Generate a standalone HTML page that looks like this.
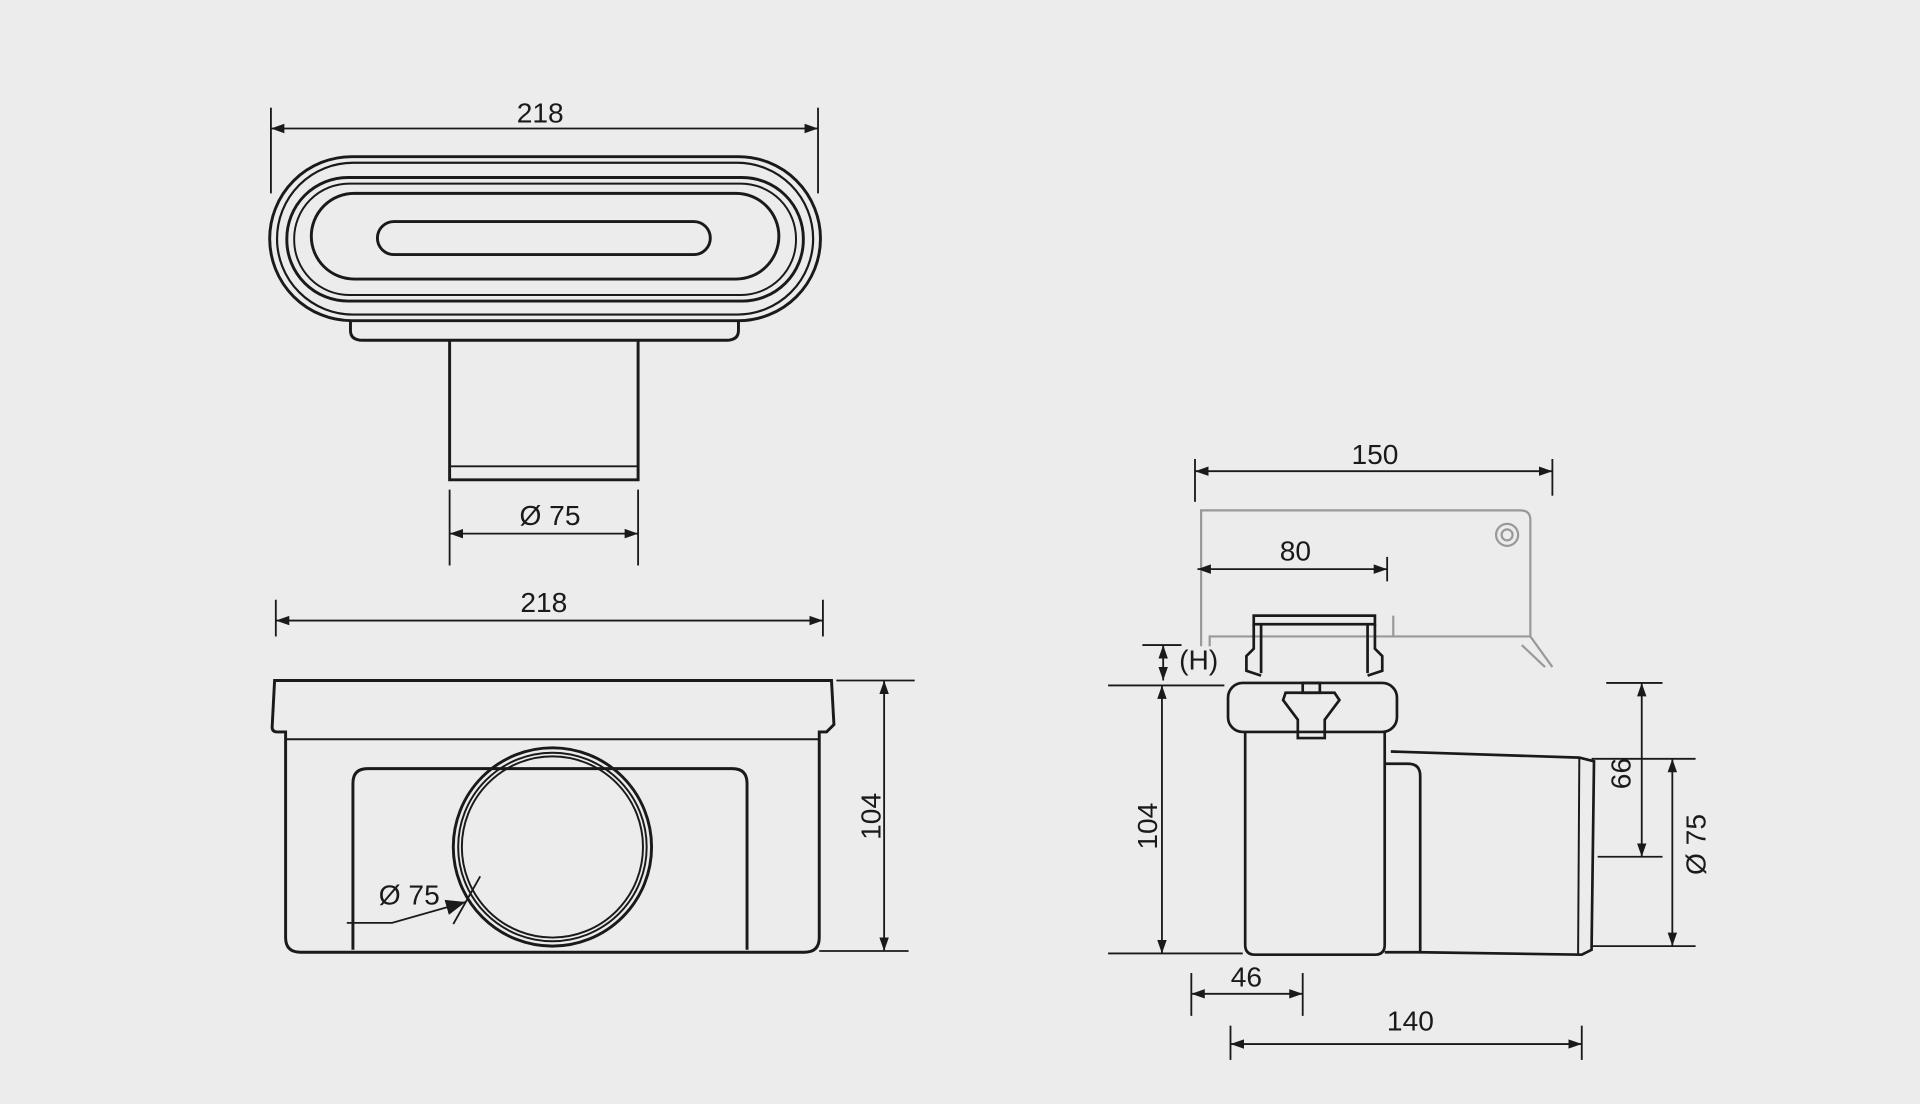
<!DOCTYPE html>
<html><head><meta charset="utf-8"><style>
html,body{margin:0;padding:0;background:#ececec;}
svg{display:block;}
text{font-family:"Liberation Sans",sans-serif;font-size:23px;fill:#1a1a1a;}
</style></head><body>
<svg width="1920" height="1104" viewBox="0 0 1568 902" xmlns="http://www.w3.org/2000/svg">
<defs>
<marker id="a" viewBox="0 0 10 10" refX="10" refY="5" markerWidth="11" markerHeight="11" markerUnits="userSpaceOnUse" orient="auto-start-reverse"><path d="M0,1.5 L10,5 L0,8.5z" fill="#1a1a1a"/></marker>
<marker id="b" viewBox="0 0 10 10" refX="10" refY="5" markerWidth="16" markerHeight="16" markerUnits="userSpaceOnUse" orient="auto"><path d="M0,1 L10,5 L0,9z" fill="#1a1a1a"/></marker>
</defs>
<rect width="1568" height="902" fill="#ececec"/>
<g stroke="#1a1a1a" stroke-width="1.5" fill="none">
<line x1="221" y1="88" x2="221" y2="158"/><line x1="668" y1="88" x2="668" y2="158"/>
<line x1="221" y1="105" x2="668" y2="105" marker-start="url(#a)" marker-end="url(#a)"/>
<line x1="367" y1="400" x2="367" y2="462"/><line x1="521" y1="400" x2="521" y2="462"/>
<line x1="367" y1="436" x2="521" y2="436" marker-start="url(#a)" marker-end="url(#a)"/>
</g>
<g stroke="#1a1a1a" stroke-width="2.4" fill="none">
<rect x="220" y="128" width="450" height="134" rx="67"/>
<rect x="226" y="133" width="438" height="124" rx="62" stroke-width="1.8"/>
<rect x="234" y="145" width="422" height="101" rx="50"/>
<rect x="240" y="150" width="410" height="91" rx="45" stroke-width="1.6"/>
<rect x="254" y="158" width="382" height="70" rx="35"/>
<rect x="308" y="181" width="272" height="27" rx="13.5"/>
<path d="M286,262 L286,270 Q286,278 296,278 L593,278 Q603,278 603,270 L603,262"/>
<path d="M367,278 L367,392 L521,392 L521,278"/>
<line x1="367" y1="381" x2="521" y2="381" stroke-width="1.6"/>
</g>
<text x="441" y="100" text-anchor="middle">218</text>
<text x="449" y="429" text-anchor="middle">Ø 75</text>

<g stroke="#1a1a1a" stroke-width="1.5" fill="none">
<line x1="225" y1="490" x2="225" y2="520"/><line x1="672" y1="490" x2="672" y2="520"/>
<line x1="225" y1="507" x2="672" y2="507" marker-start="url(#a)" marker-end="url(#a)"/>
<line x1="683" y1="556" x2="747" y2="556"/><line x1="669" y1="777" x2="742" y2="777"/>
<line x1="722" y1="556" x2="722" y2="777" marker-start="url(#a)" marker-end="url(#a)"/>
<polyline points="283,754 320,754 380,737" marker-end="url(#b)"/>
<line x1="370" y1="755" x2="392" y2="716"/>
</g>
<g stroke="#1a1a1a" stroke-width="2.4" fill="none">
<path d="M224,556 L679,556 L681,592 L675,598 L669,598 L669,766 Q669,778 657,778 L245,778 Q233,778 233,766 L233,598 L226,598 Q222,598 222,594 Z"/>
<line x1="233" y1="604" x2="669" y2="604" stroke-width="1.6"/>
<path d="M288,776 L288,640 Q288,628 300,628 L598,628 Q610,628 610,640 L610,776"/>
<circle cx="451" cy="692" r="81"/>
<circle cx="451" cy="692" r="77" stroke-width="1.6"/>
<circle cx="451" cy="692" r="74" stroke-width="1.6"/>
</g>
<text x="334" y="739" text-anchor="middle">Ø 75</text>
<text x="444" y="500" text-anchor="middle">218</text>
<text transform="translate(719,667) rotate(-90)" text-anchor="middle">104</text>

<g stroke="#999" stroke-width="1.8" fill="none">
<path d="M981,528 L981,417 L1242,417 Q1250,417 1250,425 L1250,520 L1268,545"/>
<path d="M988,528 L988,520 L1250,520"/>
<line x1="1138" y1="520" x2="1138" y2="503"/>
<circle cx="1231" cy="437" r="9"/><circle cx="1231" cy="437" r="4.5"/>
<path d="M1243,527 L1262,545"/>
</g>
<g stroke="#1a1a1a" stroke-width="1.5" fill="none">
<line x1="976" y1="375" x2="976" y2="410"/><line x1="1268" y1="375" x2="1268" y2="405"/>
<line x1="976" y1="385" x2="1268" y2="385" marker-start="url(#a)" marker-end="url(#a)"/>
<line x1="1133" y1="455" x2="1133" y2="475"/>
<line x1="978" y1="465" x2="1133" y2="465" marker-start="url(#a)" marker-end="url(#a)"/>
<line x1="933" y1="527" x2="965" y2="527"/>
<line x1="950" y1="527" x2="950" y2="556" marker-start="url(#a)" marker-end="url(#a)"/>
<line x1="905" y1="560" x2="1000" y2="560"/><line x1="905" y1="779" x2="1015" y2="779"/>
<line x1="949" y1="560" x2="949" y2="779" marker-start="url(#a)" marker-end="url(#a)"/>
<line x1="1312" y1="558" x2="1358" y2="558"/><line x1="1305" y1="700" x2="1358" y2="700"/>
<line x1="1341" y1="558" x2="1341" y2="700" marker-start="url(#a)" marker-end="url(#a)"/>
<line x1="1300" y1="620" x2="1385" y2="620"/><line x1="1300" y1="773" x2="1385" y2="773"/>
<line x1="1366" y1="620" x2="1366" y2="773" marker-start="url(#a)" marker-end="url(#a)"/>
<line x1="973" y1="795" x2="973" y2="830"/><line x1="1064" y1="795" x2="1064" y2="830"/>
<line x1="973" y1="812" x2="1064" y2="812" marker-start="url(#a)" marker-end="url(#a)"/>
<line x1="1005" y1="838" x2="1005" y2="866"/><line x1="1292" y1="838" x2="1292" y2="866"/>
<line x1="1005" y1="853" x2="1292" y2="853" marker-start="url(#a)" marker-end="url(#a)"/>
</g>
<g stroke="#1a1a1a" stroke-width="2.2" fill="none">
<rect x="1024" y="503" width="99" height="7"/>
<path d="M1030,510 L1030,550 M1117,510 L1117,550"/>
<path d="M1024,510 L1024,530 L1018,536 L1018,548 L1030,552 M1123,510 L1123,530 L1129,536 L1129,548 L1117,552"/>
<rect x="1003" y="558" width="138" height="40" rx="12"/>
<path d="M1017,598 L1017,772 Q1017,780 1025,780 L1123,780 Q1131,780 1131,772 L1131,598"/>
<path d="M1131,624 L1150,624 Q1160,624 1160,634 L1160,778 L1131,778"/>
<path d="M1136,614 L1290,619 L1302,622 L1300,776 L1292,780 L1160,778"/>
<line x1="1290" y1="619" x2="1289" y2="780" stroke-width="1.6"/>
<path d="M1050,566 L1090,566 L1094,572 L1082,588 L1082,603 L1060,603 L1060,588 L1048,572 Z"/>
<rect x="1064" y="558" width="14" height="8"/>
</g>
<text x="1123" y="379" text-anchor="middle">150</text>
<text x="1058" y="458" text-anchor="middle">80</text>
<text x="979" y="547" text-anchor="middle">(H)</text>
<text transform="translate(945,675) rotate(-90)" text-anchor="middle">104</text>
<text transform="translate(1332,632) rotate(-90)" text-anchor="middle">66</text>
<text transform="translate(1393,690) rotate(-90)" text-anchor="middle">Ø 75</text>
<text x="1018" y="806" text-anchor="middle">46</text>
<text x="1152" y="842" text-anchor="middle">140</text>
</svg>
</body></html>
